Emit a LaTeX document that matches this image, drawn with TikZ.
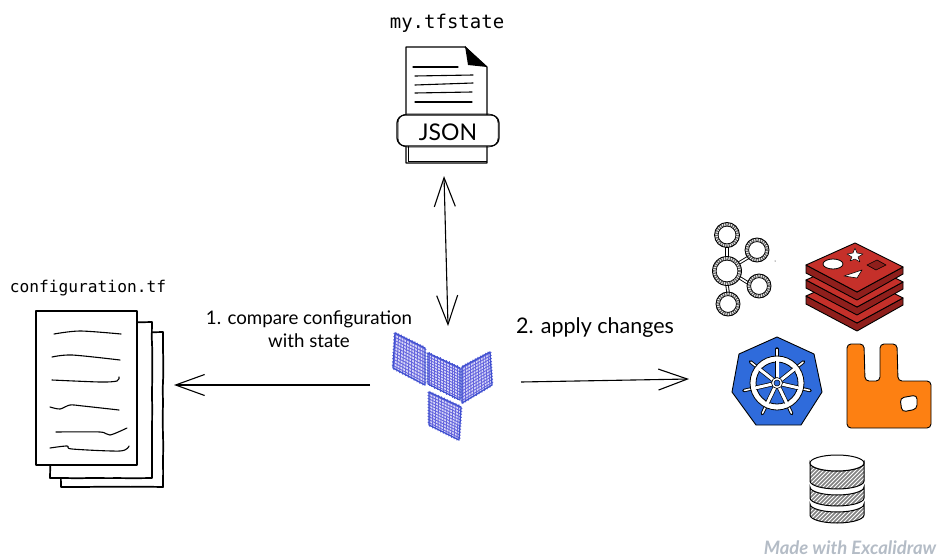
\documentclass[tikz,border=0pt]{standalone}
\usepackage{fontspec}
\newfontfamily\handfont{Lato}
\newfontfamily\codefont{DejaVu Sans Mono}
\usetikzlibrary{arrows.meta, positioning, calc, decorations.pathmorphing}
\definecolor{tfblue}{HTML}{3F51CF}
\definecolor{tfhatch}{HTML}{6565DE}
\definecolor{kubeblue}{HTML}{2F6BDB}
\definecolor{rabbitorange}{HTML}{FD8012}
\definecolor{redisred}{HTML}{C5302A}
\definecolor{redisdark}{HTML}{8F1F1C}
\definecolor{madegray}{HTML}{B4BCC6}
\tikzset{
  anchorbox/.style = {inner sep=0pt, outer sep=0pt},
  arr/.style   = {-{Straight Barb[length=29pt, width=21pt, line width=1.1pt]}, line width=1.1pt},
  biarr/.style = {{Straight Barb[length=29pt, width=21pt, line width=1.1pt]}-{Straight Barb[length=29pt, width=21pt, line width=1.1pt]}, line width=1.1pt},
  lbl/.style   = {font=\handfont\fontsize{18.7}{23}\selectfont, inner sep=0pt, align=center},
  codelbl/.style = {inner sep=0pt},
  sketch/.style = {decorate, decoration={random steps, segment length=14pt, amplitude=0.35pt}},
  sheet/.style = {draw, fill=white, line width=1.7pt, line join=round},
  scrawl/.style = {line width=1.1pt, line cap=round},
  tfedge/.style = {draw=tfblue, line width=1.3pt, line join=round}
}
% cross hatched quad of the logo
\newcommand{\hatchquad}[4]{
  \fill[tfhatch!22] (#1) -- (#2) -- (#3) -- (#4) -- cycle;
  \foreach \t in {0.03,0.12,...,1.0}{
    \draw[tfhatch, line width=0.9pt, shorten <=-1.5pt, shorten >=-1.5pt] ($(#1)!\t!(#2)$) -- ($(#4)!\t!(#3)$);
    \draw[tfhatch, line width=0.9pt, shorten <=-1.5pt, shorten >=-1.5pt] ($(#1)!\t!(#4)$) -- ($(#2)!\t!(#3)$);
  }
  \draw[tfedge] (#1) -- (#2) -- (#3) -- (#4) -- cycle;
}
% one slab of the red stack
\newcommand{\slab}[1]{
  \begin{scope}[shift={(0,#1)}]
    \draw[fill=redisdark, line width=0.9pt, line join=round]
      (806,265) -- (806,273) -- (857,300) -- (903,274) -- (903,267) -- (857,292) -- cycle;
    \draw[fill=redisred, line width=0.9pt, line join=round]
      (806,265) -- (855,243) -- (903,267) -- (857,292) -- cycle;
  \end{scope}
}
% one hatched band of the drum
\newcommand{\drumband}[2]{
  \begin{scope}
    \clip (810,#1) -- (810,#2) arc[start angle=180, end angle=0, x radius=27, y radius=8]
      -- (864,#1) arc[start angle=0, end angle=180, x radius=27, y radius=8] -- cycle;
    \fill[white] (800,440) rectangle (880,530);
    \foreach \h in {730,734,...,870}
      \draw[gray, line width=1.6pt] (\h,530) -- (\h+80,450);
  \end{scope}
  \draw[line width=1pt] (810,#1) -- (810,#2) arc[start angle=180, end angle=0, x radius=27, y radius=8]
      -- (864,#1) arc[start angle=0, end angle=180, x radius=27, y radius=8] -- cycle;
}
% hatched ring with black edges
\newcommand{\ringnode}[3]{
  \draw[black!60, line width=3.6pt, dash pattern=on 1.3pt off 1pt] (#1,#2) circle[radius=#3-1.8];
  \draw[line width=0.9pt] (#1,#2) circle[radius=#3];
  \draw[line width=0.7pt] (#1,#2) circle[radius=#3-3.6];
}

\begin{document}
\begin{tikzpicture}[x=1pt, y=-1pt]
  \useasboundingbox (0,0) rectangle (941,559);
  \pgfmathsetseed{7}

  % ── Anchors of the three groups ───────────────────────────────────────────
  \node[anchorbox, minimum width=100pt, minimum height=130pt] (State) at (444,111) {};
  \node[anchorbox, minimum width=156pt, minimum height=118pt] (Tf)    at (448,385) {};
  \node[anchorbox, minimum width=138pt, minimum height=150pt] (Cfg)   at (105,385) {};
  \node[anchorbox, minimum width=242pt, minimum height=100pt] (Apps)  at (810,379) {};

  % ── Titles ────────────────────────────────────────────────────────────────
  \node[codelbl, font=\codefont\fontsize{19}{22}\selectfont] (StateTitle) at (447,23) {my.tfstate};
  \node[codelbl, font=\codefont\fontsize{16.2}{20}\selectfont] (CfgTitle) at (88,288) {configuration.tf};

  % ── State file ────────────────────────────────────────────────────────────
  \draw[fill=white, line width=1.2pt, line join=round]
    (406,47) -- (465,47) -- (487,67) -- (487,163) -- (406,163) -- cycle;
  \draw[line width=0.7pt] (408,146) -- (408,161) -- (487,161);
  \fill (465,46) -- (487,67) -- (468,65) -- cycle;
  \draw[scrawl] (413,67) -- (458,67);
  \draw[scrawl] (415,76) -- (473,75);
  \draw[scrawl] (415,85) -- (473,83);
  \draw[scrawl] (415,93) -- (472,92);
  \draw[scrawl] (415,102) -- (472,102);
  \draw[fill=white, line width=1.2pt, rounded corners=8pt] (397,115) rectangle (499,146);
  \draw[line width=0.5pt, rounded corners=9pt] (398,114) rectangle (498,147);
  \node[font=\handfont\fontsize{23}{26}\selectfont, inner sep=0pt] (Json) at (448,132) {JSON};

  % ── Configuration sheets ──────────────────────────────────────────────────
  \draw[sheet, sketch] (61,332) rectangle (163,487);
  \draw[sheet, sketch] (50,322) rectangle (152,478);
  \draw[sheet, line width=2pt] (36,311) rectangle (137,465);
  \draw[scrawl] plot[smooth] coordinates {(54,334) (80,331) (121,334)};
  \draw[scrawl] plot[smooth] coordinates {(52,357) (72,355) (120,360)};
  \draw[scrawl] plot[smooth] coordinates {(52,380) (100,382) (117,381) (119,377)};
  \draw[scrawl] plot[smooth] coordinates {(50,407) (60,409) (70,405) (83,406) (119,410)};
  \draw[scrawl] plot[smooth] coordinates {(56,432) (100,432) (110,435) (127,428)};
  \draw[scrawl] plot[smooth] coordinates {(50,448) (67,446) (72,449) (120,451) (129,446)};

  % ── Logo ──────────────────────────────────────────────────────────────────
  \coordinate (A1) at (395,333); \coordinate (A2) at (425,348);
  \coordinate (A3) at (425,385); \coordinate (A4) at (393,368);
  \coordinate (B1) at (428,353); \coordinate (B2) at (460,368);
  \coordinate (B3) at (460,400); \coordinate (B4) at (428,384);
  \coordinate (C1) at (462,367); \coordinate (C2) at (490,352);
  \coordinate (C3) at (492,385); \coordinate (C4) at (462,403);
  \coordinate (D1) at (429,392); \coordinate (D2) at (461,407);
  \coordinate (D3) at (459,440); \coordinate (D4) at (429,425);
  \hatchquad{A1}{A2}{A3}{A4}
  \hatchquad{B1}{B2}{B3}{B4}
  \hatchquad{C1}{C2}{C3}{C4}
  \hatchquad{D1}{D2}{D3}{D4}

  % ── Ring cluster ──────────────────────────────────────────────────────────
  \foreach \xa/\ya/\xb/\yb in {727/247/727/257, 727/285/728/292, 739/263/749/257, 740/278/748/283}
    \draw[line width=3.4pt] (\xa,\ya) -- (\xb,\yb);
  \foreach \xa/\ya/\xb/\yb in {727/247/727/257, 727/285/728/292, 739/263/749/257, 740/278/748/283}
    \draw[white, line width=1.6pt] (\xa,\ya) -- (\xb,\yb);
  \ringnode{727}{235}{12.5}
  \ringnode{757}{250}{12}
  \ringnode{727}{271}{14.5}
  \ringnode{759}{286}{12}
  \ringnode{728}{304}{12}
  \fill (775,261) circle[radius=0.5];

  % ── Red stack ─────────────────────────────────────────────────────────────
  \slab{31}
  \slab{15}
  \slab{0}
  \draw[fill=white, line width=0.8pt] (833,264) ellipse[x radius=10, y radius=5];
  \draw[fill=white, line width=0.5pt, line join=round]
    (855,248) -- (857,253) -- (863,254) -- (858,257) -- (860,262) -- (855,259)
    -- (850,261) -- (852,257) -- (847,254) -- (853,253) -- cycle;
  \draw[fill=white, line width=0.6pt, line join=round] (844,276) -- (862,270) -- (857,278) -- cycle;
  \draw[fill=redisdark, line width=0.6pt, line join=round] (867,265) -- (877,260) -- (886,265) -- (876,270) -- cycle;

  % ── Wheel ─────────────────────────────────────────────────────────────────
  \draw[fill=kubeblue, line width=0.9pt, line join=round]
    (777,337) -- (814,354) -- (822,392) -- (801,425) -- (756,425) -- (732,392) -- (739,354) -- cycle;
  \coordinate (Hub) at (777,383);
  \foreach \k in {0,...,6}{
    \pgfmathsetmacro{\a}{-90+\k*360/7}
    \draw[line width=3.4pt, line cap=round] ($(Hub)+(\a:26)$) -- ($(Hub)+(\a:34)$);
    \draw[white, line width=1.6pt, line cap=round] ($(Hub)+(\a:26)$) -- ($(Hub)+(\a:33.4)$);
  }
  \draw[fill=white, line width=0.8pt] (Hub) circle[radius=27];
  \draw[fill=kubeblue, line width=0.8pt] (Hub) circle[radius=21];
  \foreach \k in {0,...,6}{
    \pgfmathsetmacro{\a}{-90+\k*360/7}
    \draw[line width=4.4pt] (Hub) -- ($(Hub)+(\a:22)$);
    \draw[white, line width=3pt] (Hub) -- ($(Hub)+(\a:23)$);
  }
  \draw[fill=white, line width=0.6pt] (Hub) circle[radius=5.5];
  \draw[fill=kubeblue, line width=0.5pt] (Hub) circle[radius=3];

  % ── Orange block ──────────────────────────────────────────────────────────
  \draw[fill=rabbitorange, line width=0.9pt, rounded corners=4pt, even odd rule]
    (847,344) -- (864,344) -- (865,381) -- (880,381) -- (880,344) -- (897,344)
    -- (898,381) -- (931,381) -- (931,428) -- (847,428) -- cycle
    (900,398) -- (917,395) -- (917,409) -- (902,412) -- cycle;

  % ── Drum ──────────────────────────────────────────────────────────────────
  \drumband{504}{515}
  \drumband{487}{498}
  \drumband{463}{481}
  \draw[fill=white, line width=1pt] (837,463) ellipse[x radius=27, y radius=8];

  % ── Connections ───────────────────────────────────────────────────────────
  \draw[biarr] (State.south) -- (Tf.north);
  \draw[arr] (Tf.west) -- (Cfg.east);
  \coordinate (TfOut) at ([xshift=-5pt, yshift=3pt]Tf.east);
  \draw[arr] (TfOut) -- (Apps.west);

  % ── Labels ────────────────────────────────────────────────────────────────
  \node[lbl] (CompareLbl) at (309,329) {1. compare configuration\\with state};
  \node[lbl, font=\handfont\fontsize{21.5}{25}\selectfont] (ApplyLbl) at (595,328) {2. apply changes};
  \node[font=\handfont\itshape\bfseries\fontsize{18.5}{21}\selectfont, text=madegray, inner sep=0pt] (Made) at (850,548) {Made with Excalidraw};

\end{tikzpicture}
\end{document}
